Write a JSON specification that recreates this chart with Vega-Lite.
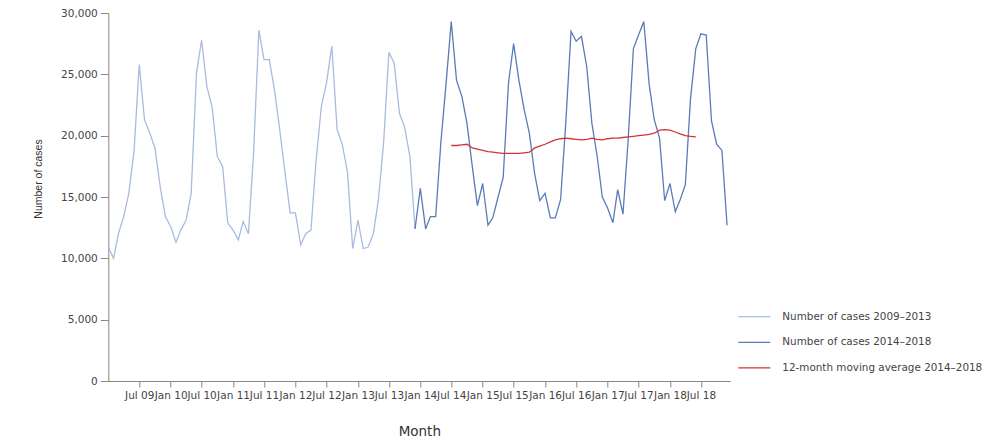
{
  "$schema": "https://vega.github.io/schema/vega-lite/v6.json",
  "width": 622,
  "height": 368,
  "autosize": {"type": "none"},
  "padding": {"left": 108.3, "top": 13, "right": 260.7, "bottom": 57},
  "config": {"view": {"stroke": null}, "font": "DejaVu Sans"},
  "datasets": {
    "cases": [
      {"month": "2009-01-01T00:00", "cases": 10900, "series": "Number of cases 2009–2013"},
      {"month": "2009-02-01T00:00", "cases": 10000, "series": "Number of cases 2009–2013"},
      {"month": "2009-03-01T00:00", "cases": 12000, "series": "Number of cases 2009–2013"},
      {"month": "2009-04-01T00:00", "cases": 13400, "series": "Number of cases 2009–2013"},
      {"month": "2009-05-01T00:00", "cases": 15300, "series": "Number of cases 2009–2013"},
      {"month": "2009-06-01T00:00", "cases": 18800, "series": "Number of cases 2009–2013"},
      {"month": "2009-07-01T00:00", "cases": 25800, "series": "Number of cases 2009–2013"},
      {"month": "2009-08-01T00:00", "cases": 21300, "series": "Number of cases 2009–2013"},
      {"month": "2009-09-01T00:00", "cases": 20200, "series": "Number of cases 2009–2013"},
      {"month": "2009-10-01T00:00", "cases": 19000, "series": "Number of cases 2009–2013"},
      {"month": "2009-11-01T00:00", "cases": 15800, "series": "Number of cases 2009–2013"},
      {"month": "2009-12-01T00:00", "cases": 13400, "series": "Number of cases 2009–2013"},
      {"month": "2010-01-01T00:00", "cases": 12600, "series": "Number of cases 2009–2013"},
      {"month": "2010-02-01T00:00", "cases": 11300, "series": "Number of cases 2009–2013"},
      {"month": "2010-03-01T00:00", "cases": 12300, "series": "Number of cases 2009–2013"},
      {"month": "2010-04-01T00:00", "cases": 13100, "series": "Number of cases 2009–2013"},
      {"month": "2010-05-01T00:00", "cases": 15300, "series": "Number of cases 2009–2013"},
      {"month": "2010-06-01T00:00", "cases": 25100, "series": "Number of cases 2009–2013"},
      {"month": "2010-07-01T00:00", "cases": 27800, "series": "Number of cases 2009–2013"},
      {"month": "2010-08-01T00:00", "cases": 24000, "series": "Number of cases 2009–2013"},
      {"month": "2010-09-01T00:00", "cases": 22300, "series": "Number of cases 2009–2013"},
      {"month": "2010-10-01T00:00", "cases": 18300, "series": "Number of cases 2009–2013"},
      {"month": "2010-11-01T00:00", "cases": 17500, "series": "Number of cases 2009–2013"},
      {"month": "2010-12-01T00:00", "cases": 12900, "series": "Number of cases 2009–2013"},
      {"month": "2011-01-01T00:00", "cases": 12300, "series": "Number of cases 2009–2013"},
      {"month": "2011-02-01T00:00", "cases": 11500, "series": "Number of cases 2009–2013"},
      {"month": "2011-03-01T00:00", "cases": 13000, "series": "Number of cases 2009–2013"},
      {"month": "2011-04-01T00:00", "cases": 12000, "series": "Number of cases 2009–2013"},
      {"month": "2011-05-01T00:00", "cases": 18500, "series": "Number of cases 2009–2013"},
      {"month": "2011-06-01T00:00", "cases": 28600, "series": "Number of cases 2009–2013"},
      {"month": "2011-07-01T00:00", "cases": 26200, "series": "Number of cases 2009–2013"},
      {"month": "2011-08-01T00:00", "cases": 26200, "series": "Number of cases 2009–2013"},
      {"month": "2011-09-01T00:00", "cases": 23700, "series": "Number of cases 2009–2013"},
      {"month": "2011-10-01T00:00", "cases": 20500, "series": "Number of cases 2009–2013"},
      {"month": "2011-11-01T00:00", "cases": 17000, "series": "Number of cases 2009–2013"},
      {"month": "2011-12-01T00:00", "cases": 13700, "series": "Number of cases 2009–2013"},
      {"month": "2012-01-01T00:00", "cases": 13700, "series": "Number of cases 2009–2013"},
      {"month": "2012-02-01T00:00", "cases": 11100, "series": "Number of cases 2009–2013"},
      {"month": "2012-03-01T00:00", "cases": 12000, "series": "Number of cases 2009–2013"},
      {"month": "2012-04-01T00:00", "cases": 12300, "series": "Number of cases 2009–2013"},
      {"month": "2012-05-01T00:00", "cases": 18000, "series": "Number of cases 2009–2013"},
      {"month": "2012-06-01T00:00", "cases": 22400, "series": "Number of cases 2009–2013"},
      {"month": "2012-07-01T00:00", "cases": 24300, "series": "Number of cases 2009–2013"},
      {"month": "2012-08-01T00:00", "cases": 27300, "series": "Number of cases 2009–2013"},
      {"month": "2012-09-01T00:00", "cases": 20500, "series": "Number of cases 2009–2013"},
      {"month": "2012-10-01T00:00", "cases": 19300, "series": "Number of cases 2009–2013"},
      {"month": "2012-11-01T00:00", "cases": 17000, "series": "Number of cases 2009–2013"},
      {"month": "2012-12-01T00:00", "cases": 10800, "series": "Number of cases 2009–2013"},
      {"month": "2013-01-01T00:00", "cases": 13100, "series": "Number of cases 2009–2013"},
      {"month": "2013-02-01T00:00", "cases": 10800, "series": "Number of cases 2009–2013"},
      {"month": "2013-03-01T00:00", "cases": 10900, "series": "Number of cases 2009–2013"},
      {"month": "2013-04-01T00:00", "cases": 12000, "series": "Number of cases 2009–2013"},
      {"month": "2013-05-01T00:00", "cases": 14800, "series": "Number of cases 2009–2013"},
      {"month": "2013-06-01T00:00", "cases": 19600, "series": "Number of cases 2009–2013"},
      {"month": "2013-07-01T00:00", "cases": 26800, "series": "Number of cases 2009–2013"},
      {"month": "2013-08-01T00:00", "cases": 25900, "series": "Number of cases 2009–2013"},
      {"month": "2013-09-01T00:00", "cases": 21800, "series": "Number of cases 2009–2013"},
      {"month": "2013-10-01T00:00", "cases": 20700, "series": "Number of cases 2009–2013"},
      {"month": "2013-11-01T00:00", "cases": 18300, "series": "Number of cases 2009–2013"},
      {"month": "2013-12-01T00:00", "cases": 12400, "series": "Number of cases 2009–2013"},
      {"month": "2013-12-01T00:00", "cases": 12400, "series": "Number of cases 2014–2018"},
      {"month": "2014-01-01T00:00", "cases": 15700, "series": "Number of cases 2014–2018"},
      {"month": "2014-02-01T00:00", "cases": 12400, "series": "Number of cases 2014–2018"},
      {"month": "2014-03-01T00:00", "cases": 13400, "series": "Number of cases 2014–2018"},
      {"month": "2014-04-01T00:00", "cases": 13400, "series": "Number of cases 2014–2018"},
      {"month": "2014-05-01T00:00", "cases": 19400, "series": "Number of cases 2014–2018"},
      {"month": "2014-06-01T00:00", "cases": 24300, "series": "Number of cases 2014–2018"},
      {"month": "2014-07-01T00:00", "cases": 29300, "series": "Number of cases 2014–2018"},
      {"month": "2014-08-01T00:00", "cases": 24500, "series": "Number of cases 2014–2018"},
      {"month": "2014-09-01T00:00", "cases": 23200, "series": "Number of cases 2014–2018"},
      {"month": "2014-10-01T00:00", "cases": 21000, "series": "Number of cases 2014–2018"},
      {"month": "2014-11-01T00:00", "cases": 17500, "series": "Number of cases 2014–2018"},
      {"month": "2014-12-01T00:00", "cases": 14300, "series": "Number of cases 2014–2018"},
      {"month": "2015-01-01T00:00", "cases": 16100, "series": "Number of cases 2014–2018"},
      {"month": "2015-02-01T00:00", "cases": 12700, "series": "Number of cases 2014–2018"},
      {"month": "2015-03-01T00:00", "cases": 13300, "series": "Number of cases 2014–2018"},
      {"month": "2015-04-01T00:00", "cases": 15000, "series": "Number of cases 2014–2018"},
      {"month": "2015-05-01T00:00", "cases": 16600, "series": "Number of cases 2014–2018"},
      {"month": "2015-06-01T00:00", "cases": 24300, "series": "Number of cases 2014–2018"},
      {"month": "2015-07-01T00:00", "cases": 27500, "series": "Number of cases 2014–2018"},
      {"month": "2015-08-01T00:00", "cases": 24500, "series": "Number of cases 2014–2018"},
      {"month": "2015-09-01T00:00", "cases": 22100, "series": "Number of cases 2014–2018"},
      {"month": "2015-10-01T00:00", "cases": 20200, "series": "Number of cases 2014–2018"},
      {"month": "2015-11-01T00:00", "cases": 16900, "series": "Number of cases 2014–2018"},
      {"month": "2015-12-01T00:00", "cases": 14700, "series": "Number of cases 2014–2018"},
      {"month": "2016-01-01T00:00", "cases": 15300, "series": "Number of cases 2014–2018"},
      {"month": "2016-02-01T00:00", "cases": 13300, "series": "Number of cases 2014–2018"},
      {"month": "2016-03-01T00:00", "cases": 13300, "series": "Number of cases 2014–2018"},
      {"month": "2016-04-01T00:00", "cases": 14800, "series": "Number of cases 2014–2018"},
      {"month": "2016-05-01T00:00", "cases": 21000, "series": "Number of cases 2014–2018"},
      {"month": "2016-06-01T00:00", "cases": 28500, "series": "Number of cases 2014–2018"},
      {"month": "2016-07-01T00:00", "cases": 27700, "series": "Number of cases 2014–2018"},
      {"month": "2016-08-01T00:00", "cases": 28100, "series": "Number of cases 2014–2018"},
      {"month": "2016-09-01T00:00", "cases": 25600, "series": "Number of cases 2014–2018"},
      {"month": "2016-10-01T00:00", "cases": 21000, "series": "Number of cases 2014–2018"},
      {"month": "2016-11-01T00:00", "cases": 18300, "series": "Number of cases 2014–2018"},
      {"month": "2016-12-01T00:00", "cases": 15000, "series": "Number of cases 2014–2018"},
      {"month": "2017-01-01T00:00", "cases": 14100, "series": "Number of cases 2014–2018"},
      {"month": "2017-02-01T00:00", "cases": 12900, "series": "Number of cases 2014–2018"},
      {"month": "2017-03-01T00:00", "cases": 15600, "series": "Number of cases 2014–2018"},
      {"month": "2017-04-01T00:00", "cases": 13600, "series": "Number of cases 2014–2018"},
      {"month": "2017-05-01T00:00", "cases": 19600, "series": "Number of cases 2014–2018"},
      {"month": "2017-06-01T00:00", "cases": 27100, "series": "Number of cases 2014–2018"},
      {"month": "2017-07-01T00:00", "cases": 28200, "series": "Number of cases 2014–2018"},
      {"month": "2017-08-01T00:00", "cases": 29300, "series": "Number of cases 2014–2018"},
      {"month": "2017-09-01T00:00", "cases": 24200, "series": "Number of cases 2014–2018"},
      {"month": "2017-10-01T00:00", "cases": 21300, "series": "Number of cases 2014–2018"},
      {"month": "2017-11-01T00:00", "cases": 19800, "series": "Number of cases 2014–2018"},
      {"month": "2017-12-01T00:00", "cases": 14700, "series": "Number of cases 2014–2018"},
      {"month": "2018-01-01T00:00", "cases": 16100, "series": "Number of cases 2014–2018"},
      {"month": "2018-02-01T00:00", "cases": 13800, "series": "Number of cases 2014–2018"},
      {"month": "2018-03-01T00:00", "cases": 14750, "series": "Number of cases 2014–2018"},
      {"month": "2018-04-01T00:00", "cases": 16000, "series": "Number of cases 2014–2018"},
      {"month": "2018-05-01T00:00", "cases": 23000, "series": "Number of cases 2014–2018"},
      {"month": "2018-06-01T00:00", "cases": 27100, "series": "Number of cases 2014–2018"},
      {"month": "2018-07-01T00:00", "cases": 28300, "series": "Number of cases 2014–2018"},
      {"month": "2018-08-01T00:00", "cases": 28200, "series": "Number of cases 2014–2018"},
      {"month": "2018-09-01T00:00", "cases": 21200, "series": "Number of cases 2014–2018"},
      {"month": "2018-10-01T00:00", "cases": 19300, "series": "Number of cases 2014–2018"},
      {"month": "2018-11-01T00:00", "cases": 18800, "series": "Number of cases 2014–2018"},
      {"month": "2018-12-01T00:00", "cases": 12700, "series": "Number of cases 2014–2018"},
      {"month": "2014-07-01T00:00", "cases": 19200, "series": "12-month moving average 2014–2018"},
      {"month": "2014-08-01T00:00", "cases": 19200, "series": "12-month moving average 2014–2018"},
      {"month": "2014-09-01T00:00", "cases": 19250, "series": "12-month moving average 2014–2018"},
      {"month": "2014-10-01T00:00", "cases": 19300, "series": "12-month moving average 2014–2018"},
      {"month": "2014-11-01T00:00", "cases": 19000, "series": "12-month moving average 2014–2018"},
      {"month": "2014-12-01T00:00", "cases": 18900, "series": "12-month moving average 2014–2018"},
      {"month": "2015-01-01T00:00", "cases": 18800, "series": "12-month moving average 2014–2018"},
      {"month": "2015-02-01T00:00", "cases": 18700, "series": "12-month moving average 2014–2018"},
      {"month": "2015-03-01T00:00", "cases": 18650, "series": "12-month moving average 2014–2018"},
      {"month": "2015-04-01T00:00", "cases": 18600, "series": "12-month moving average 2014–2018"},
      {"month": "2015-05-01T00:00", "cases": 18550, "series": "12-month moving average 2014–2018"},
      {"month": "2015-06-01T00:00", "cases": 18550, "series": "12-month moving average 2014–2018"},
      {"month": "2015-07-01T00:00", "cases": 18550, "series": "12-month moving average 2014–2018"},
      {"month": "2015-08-01T00:00", "cases": 18550, "series": "12-month moving average 2014–2018"},
      {"month": "2015-09-01T00:00", "cases": 18600, "series": "12-month moving average 2014–2018"},
      {"month": "2015-10-01T00:00", "cases": 18650, "series": "12-month moving average 2014–2018"},
      {"month": "2015-11-01T00:00", "cases": 19000, "series": "12-month moving average 2014–2018"},
      {"month": "2015-12-01T00:00", "cases": 19150, "series": "12-month moving average 2014–2018"},
      {"month": "2016-01-01T00:00", "cases": 19300, "series": "12-month moving average 2014–2018"},
      {"month": "2016-02-01T00:00", "cases": 19500, "series": "12-month moving average 2014–2018"},
      {"month": "2016-03-01T00:00", "cases": 19650, "series": "12-month moving average 2014–2018"},
      {"month": "2016-04-01T00:00", "cases": 19750, "series": "12-month moving average 2014–2018"},
      {"month": "2016-05-01T00:00", "cases": 19800, "series": "12-month moving average 2014–2018"},
      {"month": "2016-06-01T00:00", "cases": 19750, "series": "12-month moving average 2014–2018"},
      {"month": "2016-07-01T00:00", "cases": 19700, "series": "12-month moving average 2014–2018"},
      {"month": "2016-08-01T00:00", "cases": 19650, "series": "12-month moving average 2014–2018"},
      {"month": "2016-09-01T00:00", "cases": 19700, "series": "12-month moving average 2014–2018"},
      {"month": "2016-10-01T00:00", "cases": 19800, "series": "12-month moving average 2014–2018"},
      {"month": "2016-11-01T00:00", "cases": 19700, "series": "12-month moving average 2014–2018"},
      {"month": "2016-12-01T00:00", "cases": 19650, "series": "12-month moving average 2014–2018"},
      {"month": "2017-01-01T00:00", "cases": 19750, "series": "12-month moving average 2014–2018"},
      {"month": "2017-02-01T00:00", "cases": 19800, "series": "12-month moving average 2014–2018"},
      {"month": "2017-03-01T00:00", "cases": 19800, "series": "12-month moving average 2014–2018"},
      {"month": "2017-04-01T00:00", "cases": 19850, "series": "12-month moving average 2014–2018"},
      {"month": "2017-05-01T00:00", "cases": 19900, "series": "12-month moving average 2014–2018"},
      {"month": "2017-06-01T00:00", "cases": 19950, "series": "12-month moving average 2014–2018"},
      {"month": "2017-07-01T00:00", "cases": 20000, "series": "12-month moving average 2014–2018"},
      {"month": "2017-08-01T00:00", "cases": 20050, "series": "12-month moving average 2014–2018"},
      {"month": "2017-09-01T00:00", "cases": 20100, "series": "12-month moving average 2014–2018"},
      {"month": "2017-10-01T00:00", "cases": 20200, "series": "12-month moving average 2014–2018"},
      {"month": "2017-11-01T00:00", "cases": 20450, "series": "12-month moving average 2014–2018"},
      {"month": "2017-12-01T00:00", "cases": 20500, "series": "12-month moving average 2014–2018"},
      {"month": "2018-01-01T00:00", "cases": 20450, "series": "12-month moving average 2014–2018"},
      {"month": "2018-02-01T00:00", "cases": 20300, "series": "12-month moving average 2014–2018"},
      {"month": "2018-03-01T00:00", "cases": 20150, "series": "12-month moving average 2014–2018"},
      {"month": "2018-04-01T00:00", "cases": 20000, "series": "12-month moving average 2014–2018"},
      {"month": "2018-05-01T00:00", "cases": 19950, "series": "12-month moving average 2014–2018"},
      {"month": "2018-06-01T00:00", "cases": 19900, "series": "12-month moving average 2014–2018"}
    ]
  },
  "data": {"name": "cases"},
  "mark": {"type": "line", "strokeWidth": 1.3},
  "encoding": {
    "x": {
      "field": "month",
      "type": "temporal",
      "scale": {"domain": [{"year": 2009, "month": 1, "date": 1}, {"year": 2018, "month": 12, "date": 20}]},
      "axis": {
        "values": [
          {"year": 2009, "month": 7, "date": 1}, {"year": 2010, "month": 1, "date": 1},
          {"year": 2010, "month": 7, "date": 1}, {"year": 2011, "month": 1, "date": 1},
          {"year": 2011, "month": 7, "date": 1}, {"year": 2012, "month": 1, "date": 1},
          {"year": 2012, "month": 7, "date": 1}, {"year": 2013, "month": 1, "date": 1},
          {"year": 2013, "month": 7, "date": 1}, {"year": 2014, "month": 1, "date": 1},
          {"year": 2014, "month": 7, "date": 1}, {"year": 2015, "month": 1, "date": 1},
          {"year": 2015, "month": 7, "date": 1}, {"year": 2016, "month": 1, "date": 1},
          {"year": 2016, "month": 7, "date": 1}, {"year": 2017, "month": 1, "date": 1},
          {"year": 2017, "month": 7, "date": 1}, {"year": 2018, "month": 1, "date": 1},
          {"year": 2018, "month": 7, "date": 1}
        ],
        "format": "%b %y",
        "labelOverlap": false,
        "labelFlush": false,
        "labelFontSize": 10.5,
        "labelColor": "#444",
        "labelPadding": 3,
        "tickSize": 6,
        "tickColor": "#888",
        "domainColor": "#888",
        "grid": false,
        "title": "Month",
        "titleFontSize": 13.5,
        "titleFontWeight": "normal",
        "titleColor": "#333",
        "titleY": 50,
        "titleBaseline": "middle"
      }
    },
    "y": {
      "field": "cases",
      "type": "quantitative",
      "scale": {"domain": [0, 30000], "nice": false},
      "axis": {
        "values": [0, 5000, 10000, 15000, 20000, 25000, 30000],
        "format": ",d",
        "labelFontSize": 10.5,
        "labelColor": "#444",
        "labelPadding": 3,
        "tickSize": 8,
        "tickColor": "#888",
        "domainColor": "#888",
        "grid": false,
        "title": "Number of cases",
        "titleFont": "Liberation Sans",
        "titleFontSize": 10.5,
        "titleFontWeight": "normal",
        "titleColor": "#333",
        "titleAngle": 270,
        "titleX": -70,
        "titleY": 165.5,
        "titleAlign": "center",
        "titleBaseline": "middle"
      }
    },
    "color": {
      "field": "series",
      "type": "nominal",
      "scale": {
        "domain": ["Number of cases 2009–2013", "Number of cases 2014–2018", "12-month moving average 2014–2018"],
        "range": ["#a9bbe0", "#5a7bb7", "#d0343a"]
      },
      "legend": {
        "orient": "none",
        "legendX": 629,
        "legendY": 286.7,
        "title": null,
        "padding": 0,
        "symbolType": "stroke",
        "symbolSize": 1024,
        "symbolStrokeWidth": 1.3,
        "labelFontSize": 10.4,
        "labelColor": "#444",
        "labelOffset": 11,
        "labelLimit": 320,
        "rowPadding": 2.6
      }
    }
  }
}
